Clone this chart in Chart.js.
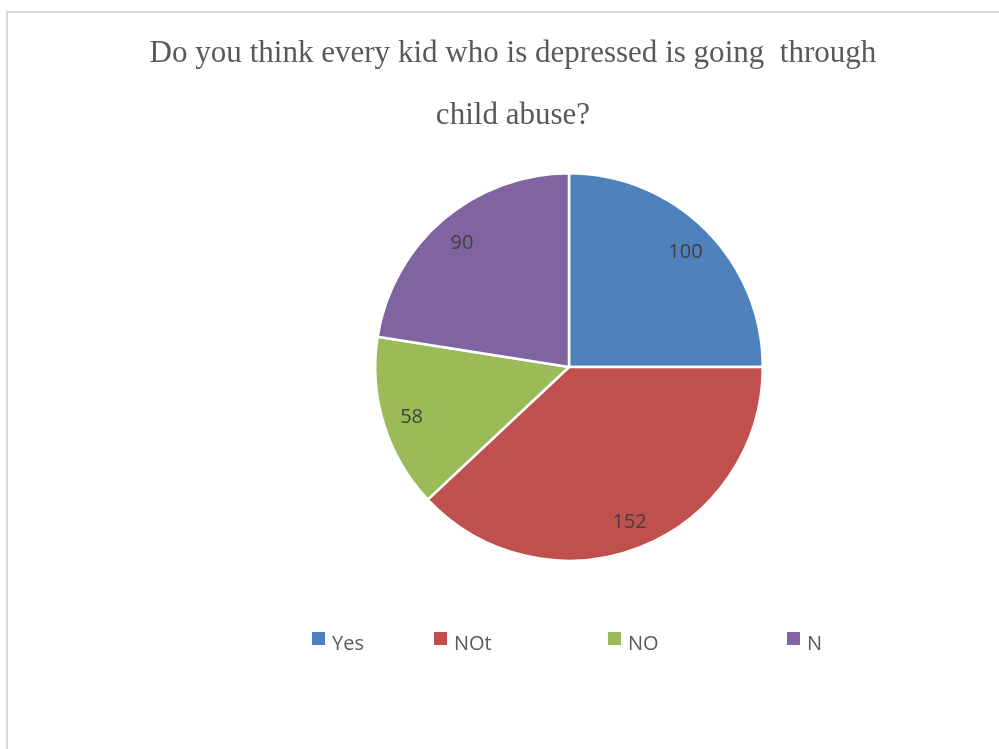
<!DOCTYPE html>
<html>
<head>
<meta charset="utf-8">
<style>
  html, body { margin: 0; padding: 0; background: #ffffff; }
  #wrap { width: 999px; height: 749px; position: relative; }
</style>
<script src="https://cdn.jsdelivr.net/npm/chart.js@4.4.1/dist/chart.umd.min.js"></script>
</head>
<body>
<div id="wrap"><canvas id="chart" width="999" height="749"></canvas></div>
<script>
// Survey answers
const categories = ['Yes', 'NOt', 'NO', 'N'];
const counts = [100, 152, 58, 90];
const sliceColors = ['#4F81BD', '#C0504D', '#9BBB59', '#8064A2'];
const titleLines = ['Do you think every kid who is depressed is going  through', 'child abuse?'];

// Frame around the chart
const framePlugin = {
  id: 'frame',
  beforeDraw(chart) {
    const ctx = chart.ctx;
    ctx.save();
    ctx.fillStyle = '#ffffff';
    ctx.fillRect(0, 0, chart.width, chart.height);
    ctx.strokeStyle = '#d9d9d9';
    ctx.lineWidth = 2;
    ctx.strokeRect(7, 12, chart.width + 40, chart.height + 40);
    ctx.restore();
  }
};

// Slightly condensed serif title
const titlePlugin = {
  id: 'condensedTitle',
  afterDraw(chart) {
    const ctx = chart.ctx;
    ctx.save();
    ctx.fillStyle = '#595959';
    ctx.font = '32px "Liberation Serif", "Times New Roman", serif';
    ctx.textAlign = 'center';
    ctx.textBaseline = 'alphabetic';
    const cx = 513, sx = 0.97;
    const baselines = [62, 124];
    titleLines.forEach((line, i) => {
      ctx.save();
      ctx.translate(cx, baselines[i]);
      ctx.scale(sx, 1);
      ctx.fillText(line, 0, 0);
      ctx.restore();
    });
    ctx.restore();
  }
};

// Value labels inside each slice
const valueLabelPlugin = {
  id: 'valueLabels',
  afterDatasetsDraw(chart) {
    const ctx = chart.ctx;
    const meta = chart.getDatasetMeta(0);
    ctx.save();
    ctx.fillStyle = '#404040';
    ctx.font = '20px "Open Sans", sans-serif';
    ctx.textAlign = 'center';
    ctx.textBaseline = 'middle';
    meta.data.forEach((arc, i) => {
      const p = arc.getProps(['x', 'y', 'startAngle', 'endAngle', 'outerRadius'], true);
      const mid = (p.startAngle + p.endAngle) / 2;
      const r = p.outerRadius * 0.85;
      ctx.fillText(String(chart.data.datasets[0].data[i]), p.x + Math.cos(mid) * r, p.y + Math.sin(mid) * r + 2);
    });
    ctx.restore();
  }
};

// Legend row below the pie
const legendPlugin = {
  id: 'legendRow',
  afterDraw(chart) {
    const ctx = chart.ctx;
    const xs = [312, 434, 608, 787];
    ctx.save();
    ctx.font = '20px "Open Sans", sans-serif';
    ctx.textAlign = 'left';
    ctx.textBaseline = 'alphabetic';
    chart.data.labels.forEach((lab, i) => {
      ctx.fillStyle = chart.data.datasets[0].backgroundColor[i];
      ctx.fillRect(xs[i], 632, 13, 13);
      ctx.fillStyle = '#595959';
      ctx.fillText(lab, xs[i] + 20, 650);
    });
    ctx.restore();
  }
};

new Chart(document.getElementById('chart'), {
  type: 'pie',
  data: {
    labels: categories,
    datasets: [{
      data: counts,
      backgroundColor: sliceColors,
      borderColor: '#ffffff',
      borderWidth: 2.5
    }]
  },
  options: {
    responsive: false,
    animation: false,
    layout: { padding: { left: 374, right: 235, top: 172, bottom: 187 } },
    plugins: {
      legend: { display: false },
      title: { display: false },
      tooltip: { enabled: false }
    }
  },
  plugins: [framePlugin, titlePlugin, valueLabelPlugin, legendPlugin]
});
</script>
</body>
</html>
